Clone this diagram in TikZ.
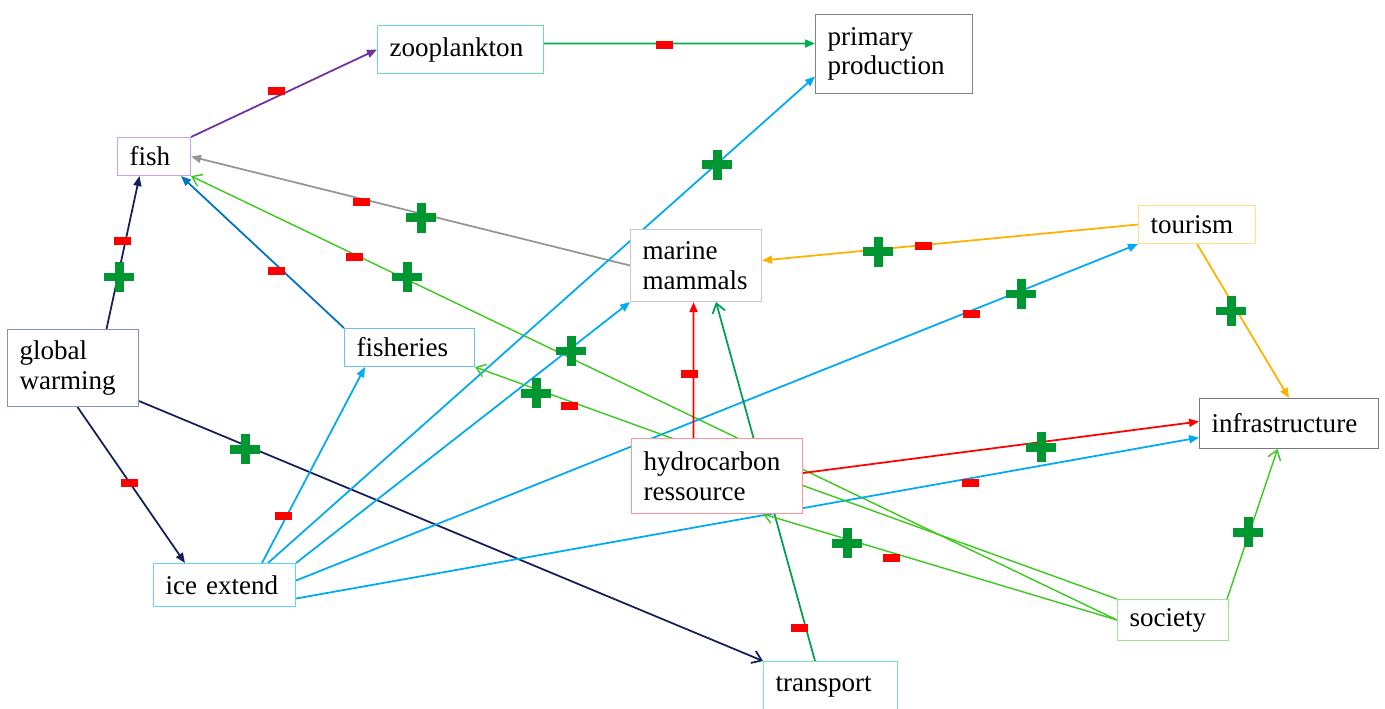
\documentclass[tikz,border=0pt]{standalone}
\usepackage{fontspec}
\setmainfont{Liberation Serif}
\usetikzlibrary{arrows.meta}
\usetikzlibrary{shapes.misc}
\usetikzlibrary{backgrounds}

\definecolor{navyc}{RGB}{20,30,90}
\definecolor{purplec}{RGB}{112,48,160}
\definecolor{zoogreen}{RGB}{0,176,80}
\definecolor{skyc}{RGB}{0,170,240}
\definecolor{fishblue}{RGB}{0,112,192}
\definecolor{grayc}{RGB}{150,150,150}
\definecolor{orangec}{RGB}{255,176,0}
\definecolor{redc}{RGB}{255,0,0}
\definecolor{socgreen}{RGB}{60,200,30}
\definecolor{transgreen}{RGB}{0,160,80}
\definecolor{plusgreen}{RGB}{0,150,50}
% box borders
\definecolor{zooB}{RGB}{110,220,170}
\definecolor{primB}{RGB}{130,130,130}
\definecolor{fishB}{RGB}{200,160,230}
\definecolor{mmB}{RGB}{200,200,200}
\definecolor{tourB}{RGB}{255,225,130}
\definecolor{gwB}{RGB}{130,145,195}
\definecolor{fshB}{RGB}{110,190,235}
\definecolor{infraB}{RGB}{120,120,120}
\definecolor{hcB}{RGB}{255,150,150}
\definecolor{iceB}{RGB}{100,210,245}
\definecolor{socB}{RGB}{160,225,140}
\definecolor{transB}{RGB}{120,225,190}

\begin{document}
\begin{tikzpicture}[x=0.02cm,y=-0.02cm,
    every node/.style={font=\fontsize{15.4}{16.8}\selectfont},
    box/.style={draw,fill=white,anchor=north west,align=left,inner xsep=0.24cm,inner ysep=0pt,line width=0.6pt},
    tip/.style={-{Triangle[length=0.2cm,width=0.16cm]},line width=1pt},
    barb/.style={-{Straight Barb[length=0.18cm,width=0.26cm]},line width=0.8pt},
    minus/.style={fill=redc,minimum width=0.34cm,minimum height=0.17cm,inner sep=0pt},
    plus/.style={cross out,draw=plusgreen,line width=0.18cm,minimum size=0.42cm,inner sep=0pt,outer sep=0pt,rotate=45}]
    \useasboundingbox (0,0) rectangle (1385,709);
    \node[box,draw=zooB,text width=2.84cm,minimum height=0.96cm] (zoo) at (377,25) {zooplankton};
    \node[box,draw=primB,text width=2.66cm,minimum height=1.58cm] (prim) at (815,14) {primary\\production};
    \node[box,draw=fishB,text width=0.98cm,minimum height=0.76cm] (fish) at (117,137) {fish};
    \node[box,draw=mmB,text width=2.14cm,minimum height=1.44cm] (mm) at (630,229) {marine\\mammals};
    \node[box,draw=tourB,text width=1.86cm,minimum height=0.76cm] (tour) at (1138,205) {tourism};
    \node[box,draw=gwB,text width=2.14cm,minimum height=1.54cm] (gw) at (7,329) {global\\warming};
    \node[box,draw=fshB,text width=2.12cm,minimum height=0.76cm] (fsh) at (344,328) {fisheries};
    \node[box,draw=infraB,text width=3.1cm,minimum height=1.0cm] (infra) at (1199,398) {infrastructure};
    \node[box,draw=hcB,text width=2.94cm,minimum height=1.5cm] (hc) at (631,438) {hydrocarbon\\ressource};
    \node[box,draw=iceB,text width=2.36cm,minimum height=0.86cm] (ice) at (153,563) {ice extend};
    \node[box,draw=socB,text width=1.74cm,minimum height=0.82cm] (soc) at (1117,599) {society};
    \node[box,draw=transB,text width=2.2cm,minimum height=1.0cm] (trans) at (763,661) {transport};

    \begin{scope}[on background layer]
    \draw (fish.north east) edge[tip,purplec] (zoo.west);
    \draw ([shift={(0,-6)}]zoo.east) edge[tip,zoogreen] ([shift={(0,-10.5)}]prim.west);
    \draw ([shift={(33.5,0)}]gw.north) edge[tip,navyc] ([shift={(-14.5,0)}]fish.south);
    \draw (fsh.north west) edge[tip,fishblue] ([shift={(-10,0)}]fish.south east);
    \draw (mm.west) edge[tip,grayc] (fish.east);
    \draw (soc.west) edge[barb,socgreen] (fish.south east);
    \draw ([shift={(4.5,0)}]gw.south) edge[tip,navyc] ([shift={(32,0)}]ice.north west);
    \draw ([shift={(0,-6)}]gw.south east) edge[barb,navyc,line width=1pt] (trans.north west);
    \draw ([shift={(109,0)}]ice.north west) edge[tip,skyc] ([shift={(21,0)}]fsh.south west);
    \draw ([shift={(115,0)}]ice.north west) edge[tip,skyc] ([shift={(0,22.5)}]prim.west);
    \draw (ice.north east) edge[tip,skyc] (mm.south west);
    \draw ([shift={(0,-4.5)}]ice.east) edge[tip,skyc] (tour.south west);
    \draw ([shift={(0,13.5)}]ice.east) edge[tip,skyc] ([shift={(0,14)}]infra.west);
    \draw (tour.west) edge[tip,orangec] ([shift={(0,-5)}]mm.east);
    \draw (tour.south) edge[tip,orangec] (infra.north);
    \draw ([shift={(-23.5,0)}]hc.north) edge[tip,redc] ([shift={(-2.5,0)}]mm.south);
    \draw ([shift={(0,-3)}]hc.east) edge[tip,redc] ([shift={(0,-2)}]infra.west);
    \draw ([shift={(52,0)}]trans.north west) edge[barb,transgreen,line width=1pt] ([shift={(20,0)}]mm.south);
    \draw (soc.west) edge[barb,socgreen] ([shift={(132,0)}]hc.south west);
    \draw (soc.north west) edge[barb,socgreen] (fsh.south east);
    \draw ([shift={(-2,0)}]soc.north east) edge[barb,socgreen] ([shift={(-11.5,0)}]infra.south);
    \end{scope}

    % minus marks
    \node[minus] (m1) at (276,91) {};
    \node[minus] (m2) at (664,45) {};
    \node[minus] (m3) at (122,241) {};
    \node[minus] (m4) at (361,202) {};
    \node[minus] (m5) at (354,257) {};
    \node[minus] (m6) at (276,271) {};
    \node[minus] (m7) at (129,483) {};
    \node[minus] (m8) at (283,516) {};
    \node[minus] (m9) at (569,406) {};
    \node[minus] (m10) at (689,374) {};
    \node[minus] (m11) at (923,246) {};
    \node[minus] (m12) at (971,314) {};
    \node[minus] (m13) at (970,483) {};
    \node[minus] (m14) at (891,558) {};
    \node[minus] (m15) at (799,628) {};
    % plus marks
    \node[plus] (p1) at (119,277) {};
    \node[plus] (p2) at (421,218) {};
    \node[plus] (p3) at (407,277) {};
    \node[plus] (p4) at (717,165) {};
    \node[plus] (p5) at (878,252) {};
    \node[plus] (p6) at (1021,294) {};
    \node[plus] (p7) at (571,351) {};
    \node[plus] (p8) at (536,393) {};
    \node[plus] (p9) at (245,449) {};
    \node[plus] (p10) at (1231,311) {};
    \node[plus] (p11) at (1041,447) {};
    \node[plus] (p12) at (847,543) {};
    \node[plus] (p13) at (1248,532) {};
\end{tikzpicture}
\end{document}
